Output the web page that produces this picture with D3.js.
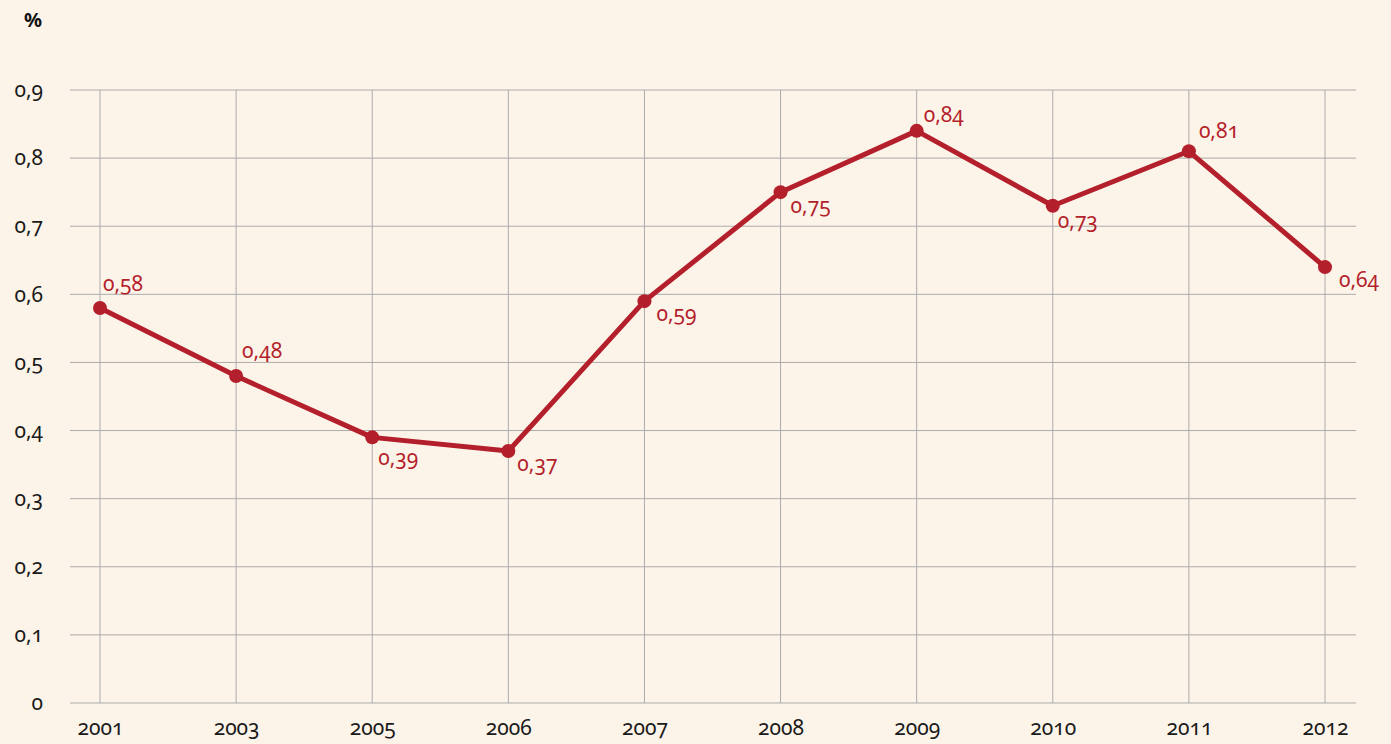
<!DOCTYPE html>
<html>
<head>
<meta charset="utf-8">
<script src="https://cdn.jsdelivr.net/npm/d3@7"></script>
<style>
body { margin: 0; background: #fdf4e9; }
svg text { font-family: "Noto Sans", sans-serif; font-variant-numeric: oldstyle-nums; }
</style>
</head>
<body>
<script>
// chart data
var years = ["2001", "2003", "2005", "2006", "2007", "2008", "2009", "2010", "2011", "2012"];
var values = [0.58, 0.48, 0.39, 0.37, 0.59, 0.75, 0.84, 0.73, 0.81, 0.64];
var yTicks = [0, 0.1, 0.2, 0.3, 0.4, 0.5, 0.6, 0.7, 0.8, 0.9];

// where each value label sits relative to its dot (layout only)
var labelDx = [3, 6, 6, 9, 12, 10, 7, 5, 10, 14];
var labelDy = [-17, -18, 28, 20, 20, 21, -9, 22, -13, 20];

var w = 1391, h = 744;
var red = "#b41f2c";
var fs = 21;

var svg = d3.select("body").append("svg")
    .attr("width", w)
    .attr("height", h);

svg.append("rect").attr("width", w).attr("height", h).attr("fill", "#fdf4e9");

var x = d3.scalePoint().domain(years).range([100, 1325]);
var y = d3.scaleLinear().domain([0, 0.9]).range([703, 90]);

var fmt = function(v) { return v === 0 ? "0" : d3.format(".1f")(v).replace(".", ","); };

// horizontal grid
svg.append("g").selectAll("line")
    .data(yTicks)
    .enter().append("line")
    .attr("x1", 70).attr("x2", 1356)
    .attr("y1", function(d) { return y(d); })
    .attr("y2", function(d) { return y(d); })
    .attr("stroke", "#ababab")
    .attr("stroke-width", 1);

// vertical grid
svg.append("g").selectAll("line")
    .data(years)
    .enter().append("line")
    .attr("x1", function(d) { return x(d); })
    .attr("x2", function(d) { return x(d); })
    .attr("y1", y(0.9)).attr("y2", y(0))
    .attr("stroke", "#ababab")
    .attr("stroke-width", 1);

// y axis labels
var yAxis = d3.axisLeft(y).tickValues(yTicks).tickFormat(fmt).tickSize(0).tickPadding(0);
var gy = svg.append("g").attr("transform", "translate(43,0)").call(yAxis);
gy.select(".domain").remove();
gy.selectAll("text").attr("font-size", fs).attr("fill", "#1a1a1a").attr("font-family", null);

// x axis labels
var xAxis = d3.axisBottom(x).tickSize(0).tickPadding(0);
var gx = svg.append("g").attr("transform", "translate(0,720)").call(xAxis);
gx.select(".domain").remove();
gx.selectAll("text").attr("font-size", fs).attr("fill", "#1a1a1a").attr("font-family", null);

svg.append("text")
    .attr("x", 33).attr("y", 27)
    .attr("text-anchor", "middle")
    .attr("font-size", 20)
    .attr("font-weight", "bold")
    .attr("fill", "#111")
    .text("%");

// the line
var line = d3.line()
    .x(function(d, i) { return x(years[i]); })
    .y(function(d) { return y(d); });

svg.append("path")
    .datum(values)
    .attr("d", line)
    .attr("fill", "none")
    .attr("stroke", red)
    .attr("stroke-width", 5)
    .attr("stroke-linejoin", "round");

svg.selectAll(".dot")
    .data(values)
    .enter().append("circle")
    .attr("class", "dot")
    .attr("cx", function(d, i) { return x(years[i]); })
    .attr("cy", function(d) { return y(d); })
    .attr("r", 7)
    .attr("fill", red);

svg.selectAll(".vlabel")
    .data(values)
    .enter().append("text")
    .attr("class", "vlabel")
    .attr("x", function(d, i) { return x(years[i]) + labelDx[i]; })
    .attr("y", function(d, i) { return y(d) + labelDy[i]; })
    .attr("font-size", fs)
    .attr("fill", red)
    .text(function(d) { return d3.format(".2f")(d).replace(".", ","); });
</script>
</body>
</html>
